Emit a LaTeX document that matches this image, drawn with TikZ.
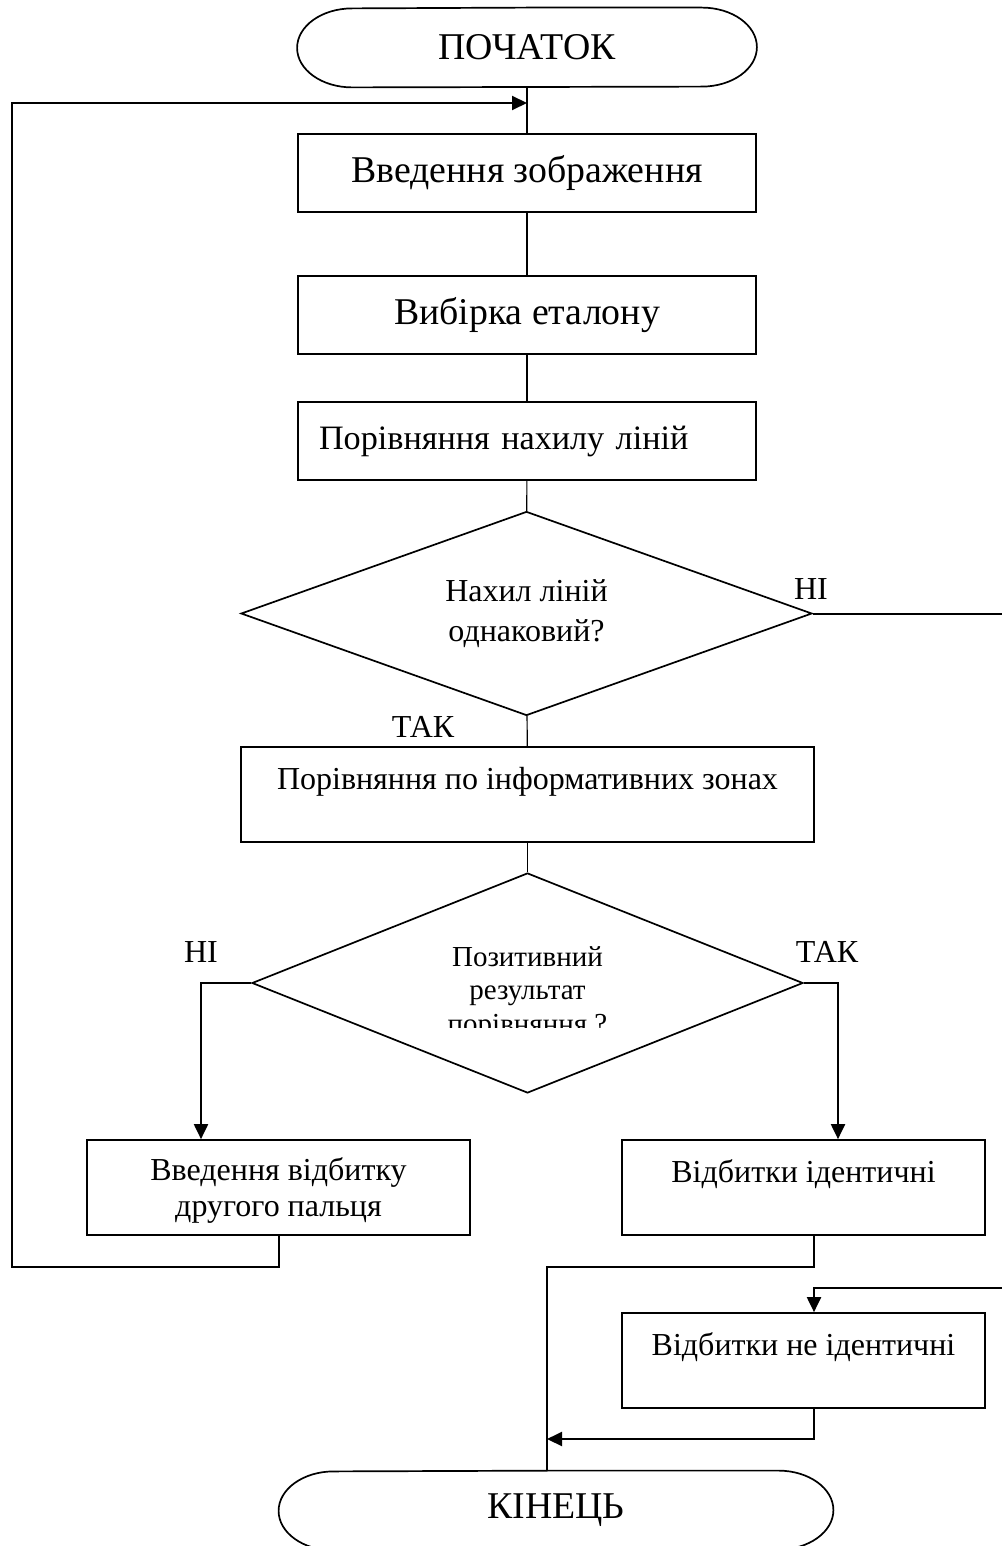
\documentclass[tikz,border=0pt]{standalone}
\usepackage{fontspec}
\setmainfont{Liberation Serif}
\usetikzlibrary{shapes.geometric, arrows.meta}

\newcommand{\fnbig}{\fontsize{18.9}{22}\selectfont}
\newcommand{\fnmid}{\fontsize{16}{18}\selectfont}
\newcommand{\fnsmall}{\fontsize{16}{20}\selectfont}
% outline of a start/stop terminal round a named node
\newcommand{\termoutline}[1]{%
  \draw[line width=0.85pt] (#1.north) -- ([xshift=-27.5pt]#1.north east)
    arc[start angle=90, end angle=-90, x radius=27.5pt, y radius=19.75pt]
    -- ([xshift=27.5pt]#1.south west)
    arc[start angle=270, end angle=90, x radius=27.5pt, y radius=19.75pt] -- cycle;}

\begin{document}
\begin{tikzpicture}[x=0.5pt, y=-0.5pt,
    term/.style={minimum width=229.5pt, minimum height=39.5pt, inner sep=0pt, font=\fnbig},
    box/.style={draw, line width=0.85pt, minimum width=229pt, minimum height=39pt, inner sep=0pt, font=\fnbig},
    lowbox/.style={draw, line width=0.85pt, minimum height=47.5pt, inner sep=0pt, font=\fnmid, align=center},
    topline/.style={text height=11pt, text depth=16.2pt},
    decision/.style={diamond, draw, line width=0.85pt, inner sep=0pt, shape aspect=2.8, align=center},
    lbl/.style={inner sep=0pt, font=\fnmid},
    flow/.style={line width=0.6pt},
    flowthick/.style={line width=1pt},
    tip/.style={-{Triangle[length=7.5pt, width=7pt]}}]
    \useasboundingbox (0,0) rectangle (1001,1546);

    % Main column
    \node[term] (start) at (527,47.5) {ПОЧАТОК};
    \termoutline{start}
    \node[box] (inp) at (527,173) {Введення зображення};
    \node[box] (sel) at (527,315) {Вибірка еталону};
    \node[box, font=\fontsize{17.1}{20}\selectfont, text width=208pt, inner xsep=10.5pt, align=left] (cmp1) at (527,441) {Порівняння нахилу ліній};
    \node[decision, minimum width=285.5pt, minimum height=102pt, font=\fnsmall] (dec1) at (526.5,613.5) {Нахил ліній\\однаковий?};
    \node[lowbox, topline, minimum width=286.5pt] (cmp2) at (527.5,794.5) {Порівняння по інформативних зонах};
    \node[decision, minimum width=275.5pt, minimum height=110pt] (dec2) at (527.5,983) {};
    % third line is cut off in the original
    \begin{scope}
        \clip (300,930) rectangle (760,1027.3);
        \node[align=center, inner sep=0pt, font=\fontsize{14.5}{16.75}\selectfont] (dec2txt) at (527.5,993) {Позитивний\\результат\\порівняння ?};
    \end{scope}

    % Branches
    \node[lowbox, minimum width=191.5pt, text depth=0pt] (retry) at (278.5,1187.5) {Введення відбитку\\другого пальця};
    \node[lowbox, topline, minimum width=181.5pt] (same) at (803.5,1187.5) {Відбитки ідентичні};
    \node[lowbox, topline, minimum width=181.5pt] (diff) at (803.5,1360.5) {Відбитки не ідентичні};
    \node[term, minimum width=277pt] (stop) at (556,1510.5) {КІНЕЦЬ};
    \termoutline{stop}

    % Answer labels
    \node[lbl] (no1) at (811,589) {НІ};
    \node[lbl] (yes1) at (423,727) {ТАК};
    \node[lbl] (no2) at (201,952) {НІ};
    \node[lbl] (yes2) at (827,952) {ТАК};

    % Helper points for bends
    \coordinate (lcol) at (201,0);
    \coordinate (rcol) at (838,0);
    \coordinate (col) at (814,0);
    \coordinate (loopcorner) at (11.5,1267);
    \coordinate (loopin) at (527,103);
    \coordinate (rightcorner) at (1005,1288);
    \coordinate (trunktop) at (547,1267);
    \coordinate (trunkjoin) at (547,1439);

    % Straight connectors
    \draw[flow] (start) -- (inp);
    \draw[flow] (inp) -- (sel);
    \draw[flow] (sel) -- (cmp1);
    \draw[flow] (cmp1) -- (dec1);
    \draw[flow] (dec1) -- (cmp2);
    \draw[flow] (cmp2) -- (dec2);

    % Bent connectors
    \draw[flowthick, tip] (dec2.west) -| (lcol |- retry.north);
    \draw[flowthick, tip] (dec2.east) -| (rcol |- same.north);
    \draw[flowthick, tip] (retry.south) |- (loopcorner) |- (loopin);
    \draw[flowthick, tip] (dec1.east) -| (rightcorner) -| (col |- diff.north);
    \draw[flowthick] (col |- same.south) |- (trunktop) -- (trunktop |- stop.north);
    \draw[flowthick, tip] (col |- diff.south) |- (trunkjoin);
\end{tikzpicture}
\end{document}
